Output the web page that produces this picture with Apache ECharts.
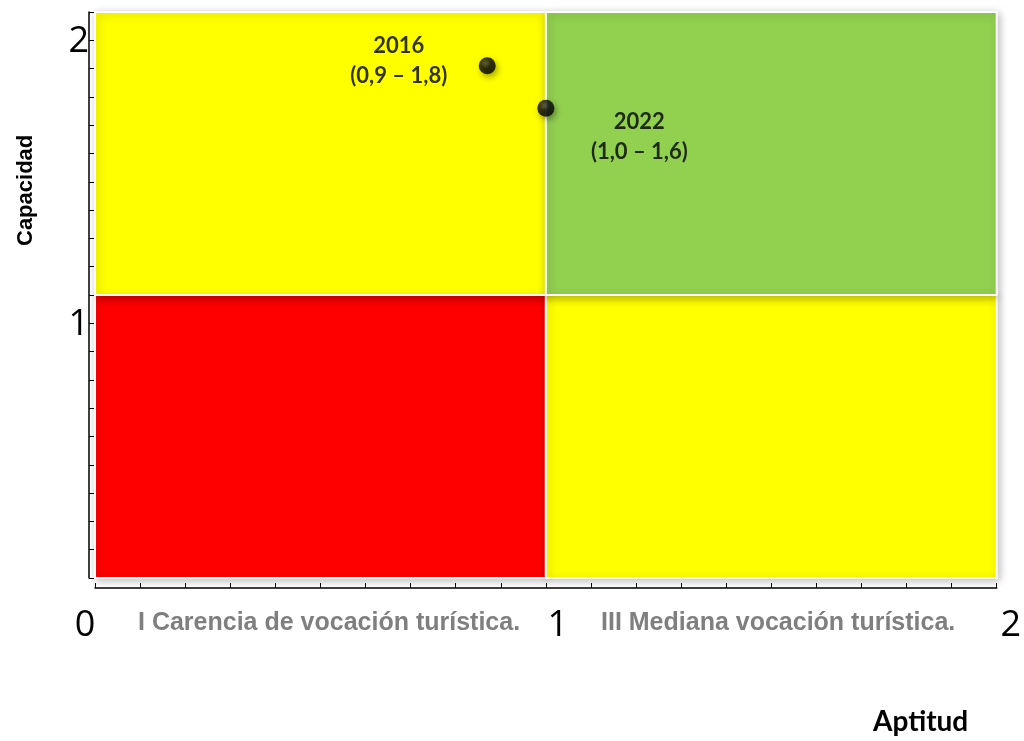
<!DOCTYPE html>
<html>
<head>
<meta charset="utf-8">
<script src="https://cdn.jsdelivr.net/npm/echarts@6/dist/echarts.min.js"></script>
<style>
  html, body { margin: 0; padding: 0; background: #fff; }
  #chart { width: 1024px; height: 741px; }
</style>
</head>
<body>
<div id="chart"></div>
<script>
// cuadrantes: [x0, y0, x1, y1]
var quadrants = [[0, 0, 1, 1], [1, 0, 2, 1], [0, 1, 1, 2], [1, 1, 2, 2]];
var quadColors = ['#ff0000', '#ffff00', '#ffff00', '#92d050'];
var years = ['2016', '2022'];
var aptitud = [0.87, 1.0];
var capacidad = [1.81, 1.66];
var pointText = ['(0,9 – 1,8)', '(1,0 – 1,6)'];
var xTicks = [0, 1, 2];
var yTicks = [0, 1, 2];
var quadNames = ['I Carencia de vocación turística.', 'III Mediana vocación turística.'];

var chart = echarts.init(document.getElementById('chart'));

var labelPos = [[-80, 4], [102, 37]];
var points = years.map(function (y, i) {
  return {
    value: [aptitud[i], capacidad[i]],
    label: { position: labelPos[i] }
  };
});

var numFont = { fontFamily: 'Open Sans', fontSize: 36, color: '#000' };

chart.setOption({
  animation: false,
  grid: { left: 95, right: 27, top: 12, bottom: 163 },
  xAxis: {
    type: 'value', min: 0, max: 2, interval: 1, offset: 10, z: 10,
    axisLine: { show: true, onZero: false, lineStyle: { color: '#000', width: 1.5 } },
    axisTick: { show: true, inside: true, length: 5, lineStyle: { color: '#000' } },
    minorTick: { show: true, splitNumber: 10, length: 5, lineStyle: { color: '#000' } },
    splitLine: { show: false },
    axisLabel: {
      showMinLabel: true, showMaxLabel: true, margin: 20,
      formatter: function (v) { return '{t' + xTicks.indexOf(v) + '|' + v + '}'; },
      rich: {
        t0: Object.assign({ padding: [0, 20, 0, 0] }, numFont),
        t1: Object.assign({ padding: [0, 0, 0, 24] }, numFont),
        t2: Object.assign({ padding: [0, 0, 0, 28] }, numFont)
      }
    }
  },
  yAxis: {
    type: 'value', min: 0, max: 2, interval: 1, offset: 6, z: 10,
    axisLine: { show: true, onZero: false, lineStyle: { color: '#000', width: 1.5 } },
    axisTick: { show: true, inside: true, length: 5, lineStyle: { color: '#000' } },
    minorTick: { show: true, splitNumber: 10, length: 5, lineStyle: { color: '#000' } },
    splitLine: { show: false },
    axisLabel: {
      showMinLabel: true, showMaxLabel: true, margin: 0,
      verticalAlign: 'top', padding: [12, 0, 0, 0], lineHeight: 36,
      fontFamily: 'Open Sans', fontSize: 36, color: '#000',
      formatter: function (v) { return v === yTicks[0] ? '' : String(v); }
    }
  },
  series: [
    {
      type: 'custom',
      silent: true,
      z: 1,
      data: quadrants.map(function (q, i) { return q.concat([i]); }),
      renderItem: function (params, api) {
        var p0 = api.coord([api.value(0), api.value(3)]);
        var p1 = api.coord([api.value(2), api.value(1)]);
        return {
          type: 'rect',
          shape: { x: p0[0], y: p0[1], width: p1[0] - p0[0], height: p1[1] - p0[1] },
          style: {
            fill: quadColors[api.value(4)], stroke: '#fff', lineWidth: 2,
            shadowBlur: 8, shadowColor: 'rgba(0,0,0,0.25)', shadowOffsetX: 2, shadowOffsetY: 2
          }
        };
      }
    },
    {
      type: 'scatter',
      z: 5,
      symbolSize: 17,
      itemStyle: {
        color: {
          type: 'radial', x: 0.4, y: 0.35, r: 0.7,
          colorStops: [{ offset: 0, color: '#444' }, { offset: 0.45, color: '#0a0a0a' }, { offset: 1, color: '#000' }]
        },
        shadowBlur: 6, shadowColor: 'rgba(0,0,0,0.45)', shadowOffsetX: 2, shadowOffsetY: 3
      },
      label: {
        show: true, align: 'center', verticalAlign: 'middle',
        fontFamily: 'Lato', fontWeight: 'bold', fontSize: 22, lineHeight: 30, color: '#000',
        formatter: function (p) { return years[p.dataIndex] + '\n' + pointText[p.dataIndex]; }
      },
      data: points
    }
  ],
  graphic: [
    {
      type: 'text', left: 138, top: 611,
      style: { text: quadNames[0], fontFamily: 'Liberation Sans', fontWeight: 'bold', fontSize: 25, fill: '#7f7f7f' }
    },
    {
      type: 'text', left: 601, top: 611,
      style: { text: quadNames[1], fontFamily: 'Liberation Sans', fontWeight: 'bold', fontSize: 25, fill: '#7f7f7f' }
    },
    {
      type: 'text', left: 873, top: 708,
      style: { text: 'Aptitud', fontFamily: 'Lato', fontWeight: 'bold', fontSize: 28, fill: '#000' }
    },
    {
      type: 'text', x: 15, y: 246, rotation: Math.PI / 2,
      style: { text: 'Capacidad', fontFamily: 'Liberation Sans', fontWeight: 'bold', fontSize: 22, fill: '#000', textAlign: 'left', textVerticalAlign: 'top' }
    }
  ]
});
</script>
</body>
</html>
